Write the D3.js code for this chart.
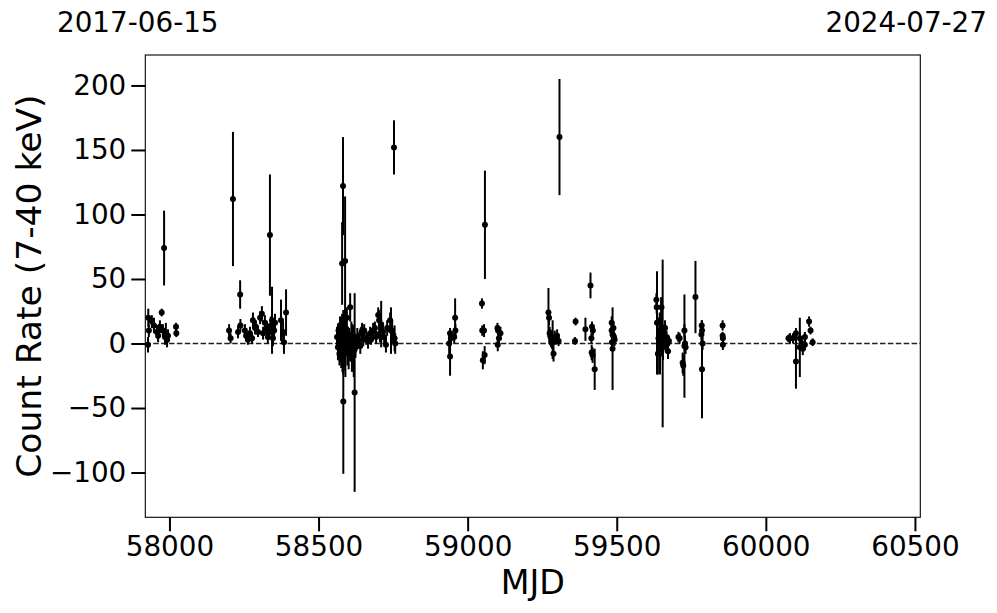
<!DOCTYPE html>
<html>
<head>
<meta charset="utf-8">
<script src="https://cdn.jsdelivr.net/npm/d3@7"></script>
<style>
  html, body { margin: 0; padding: 0; background: #fff; }
  svg { display: block; font-family: "DejaVu Sans", sans-serif; }
</style>
</head>
<body>
<svg id="chart" width="997" height="613"></svg>
<script>
// ---- data ----
const mjd = [
  // 2017
  57928, 57929, 57931, 57941, 57948, 57958, 57962, 57968, 57974, 57978, 57982, 57985, 57988, 57992, 57995, 58022, 58023,
  // 2018
  58200, 58205, 58213, 58230, 58237, 58238, 58253, 58257, 58263, 58270, 58277, 58280, 58287, 58290, 58297, 58304, 58310,
  58314, 58320, 58327, 58330, 58334, 58337, 58340, 58344, 58347, 58351, 58354, 58374, 58381, 58384, 58391,
  // 2019 dense
  58562, 58565, 58567, 58569, 58570, 58572, 58573, 58575, 58576, 58578, 58579, 58579, 58580, 58582, 58582, 58583, 58585,
  58586, 58588, 58589, 58590, 58591, 58593, 58583, 58595, 58597, 58599, 58601, 58603, 58606, 58608, 58610, 58612, 58614, 58616,
  58618, 58621, 58620, 58624, 58627, 58630, 58634, 58640, 58643, 58646, 58650,
  58653, 58660, 58666, 58673, 58676, 58683, 58689, 58693, 58700, 58703, 58706, 58710, 58716, 58720, 58726, 58730, 58740,
  58743, 58747, 58750, 58753, 58755, 58757,
  // 2020
  58938, 58941, 58941, 58944, 58955, 58958, 58959,
  59048, 59049, 59051, 59055, 59057, 59058, 59100, 59101, 59102, 59105, 59110,
  // 2021
  59271, 59273, 59275, 59278, 59280, 59283, 59285, 59288, 59292, 59296, 59300, 59305, 59308,
  59360, 59362, 59395, 59412, 59415, 59416, 59417, 59419, 59420, 59426,
  59483, 59483, 59484, 59486, 59486, 59489, 59491, 59493,
  // 2022
  59633, 59634, 59635, 59638, 59640, 59644, 59645, 59649, 59650, 59652, 59654, 59655, 59657, 59660, 59662, 59664, 59667,
  59670, 59672, 59675,
  59707, 59711, 59721, 59723, 59727, 59727, 59729, 59731,
  59764, 59784, 59785, 59786, 59786, 59788,
  59855, 59855, 59856, 59856,
  // 2023
  60076, 60081, 60091, 60101, 60101, 60114, 60114, 60121, 60124, 60131, 60131, 60145, 60150, 60157
];
const rate = [
  -1, 20, 10, 17, 14, 9, 6, 13, 24, 10, 74, 5, 8, 3, 6, 13, 8,
  10, 4, 112, 9, 38, 14, 10, 6, 3, 8, 4, 18, 12, 13, 9, 20, 23,
  8, 16, 11, 5, 9, 84, 14, 18, 4, 10, 16, 18, 9, 1, 24,
  5, -3, 10, 2, -8, 14, 0, 6, -5, 12, 3, 62, -10, 8, 122, 1, -3,
  16, 4, 64, -6, 10, 0, -45, 20, -2, 6, -8, 2, 28, -4, 3, -12, 7, -1,
  -6, -38, 2, -3, 0, 5, 1, -2, 8, 10, 3,
  10, 4, 2, 8, 3, 10, 12, 5, 22, 18, 8, 15, 9, 5, -1, 12, 18,
  10, 10, 5, 152, 4, 0,
  0, -10, 8, 4, 5, 20, 10,
  31, 10, -13, 10, -9, 92, 12, -1, 10, 4, 8,
  24, 20, 8, 5, 2, 0, 3, -8, 5, 3, 6, 2, 160,
  2, 17, 11, 45, 4, -7, 13, -9, 10, -20,
  16, 10, 1, 7, -4, 12, 5, 3,
  34, 28, 16, -8, 4, 18, -7, 13, 28, 10, 0, -3, 8, 3, 12, -1, 5,
  0, -6, 2,
  5, 4, -15, -17, -2, 10, 0, -3,
  36, 7, 14, 10, -20, 0,
  14, 6, 4, -1,
  4, 4, 4, -14, 8, -3, 4, 0, -4, 5, -1, 17, 10, 1
];
const rateErr = [
  6, 7, 5, 5, 6, 5, 5, 5, 3, 5, 29, 6, 8, 6, 5, 3, 3,
  5, 4, 52, 5, 11, 5, 5, 4, 4, 5, 4, 6, 5, 5, 4, 5, 6,
  5, 6, 6, 5, 6, 47, 7, 26, 6, 6, 7, 16, 8, 9, 18,
  8, 10, 6, 12, 9, 7, 15, 10, 14, 8, 20, 32, 12, 9, 38, 25, 18,
  10, 11, 50, 20, 14, 9, 56, 8, 15, 7, 12, 10, 11, 9, 14, 10, 8, 12,
  20, 77, 7, 8, 6, 7, 5, 6, 5, 6, 5,
  5, 5, 6, 5, 4, 6, 5, 5, 6, 8, 7, 18, 6, 5, 6, 6, 6,
  18, 8, 5, 21, 10, 8,
  8, 15, 4, 5, 5, 15, 5,
  4, 4, 7, 5, 7, 42, 4, 5, 4, 5, 5,
  19, 6, 5, 6, 5, 4, 15, 6, 5, 4, 5, 4, 45,
  3, 3, 9, 10, 4, 6, 4, 6, 4, 16,
  5, 6, 4, 5, 32, 5, 4, 5,
  5, 5, 40, 16, 8, 6, 17, 23, 6, 8, 65, 10, 6, 5, 6, 6, 5,
  5, 6, 4,
  4, 4, 8, 8, 40, 5, 6, 5,
  28, 5, 4, 5, 38, 5,
  4, 3, 3, 4,
  3, 4, 4, 21, 4, 23, 5, 5, 5, 4, 4, 4, 3, 3
];
const xTicks = [58000, 58500, 59000, 59500, 60000, 60500];
const yTicks = [-100, -50, 0, 50, 100, 150, 200];
const xDomain = [57919, 60518];
const yDomain = [-134.7, 223.6];
const startLabel = "2017-06-15";
const endLabel = "2024-07-27";
const xLabel = "MJD";
const yLabel = "Count Rate (7-40 keV)";

// ---- layout ----
const L = 145.3, R = 920.3, T = 55, B = 517.3;
const svg = d3.select("#chart");
const x = d3.scaleLinear().domain(xDomain).range([L, R]);
const y = d3.scaleLinear().domain(yDomain).range([B, T]);

const n = Math.min(mjd.length, rate.length, rateErr.length);
const points = d3.range(n).map(i => ({ m: mjd[i], v: rate[i], e: rateErr[i] }));

const tickFont = "27.8px";

// x axis
const gx = svg.append("g").attr("transform", `translate(0,${B})`)
  .call(d3.axisBottom(x).tickValues(xTicks).tickFormat(d3.format("d")).tickSize(14).tickPadding(5));
gx.select(".domain").remove();
gx.selectAll(".tick line").attr("stroke", "#000").attr("stroke-width", 2);
gx.selectAll(".tick text").attr("font-size", tickFont).attr("fill", "#000")
  .attr("font-family", "DejaVu Sans");

// y axis
const gy = svg.append("g").attr("transform", `translate(${L},0)`)
  .call(d3.axisLeft(y).tickValues(yTicks).tickFormat(d3.format("d")).tickSize(14).tickPadding(5));
gy.select(".domain").remove();
gy.selectAll(".tick line").attr("stroke", "#000").attr("stroke-width", 2);
gy.selectAll(".tick text").attr("font-size", tickFont).attr("fill", "#000")
  .attr("font-family", "DejaVu Sans");

// zero line
svg.append("line")
  .attr("x1", L).attr("x2", R).attr("y1", y(0)).attr("y2", y(0))
  .attr("stroke", "#222").attr("stroke-width", 1.5).attr("stroke-dasharray", "5.5,2.4");

// error bars
svg.append("g").selectAll("line").data(points).join("line")
  .attr("x1", d => x(d.m)).attr("x2", d => x(d.m))
  .attr("y1", d => y(d.v - d.e)).attr("y2", d => y(d.v + d.e))
  .attr("stroke", "#000").attr("stroke-width", 2);

// markers
svg.append("g").selectAll("circle").data(points).join("circle")
  .attr("cx", d => x(d.m)).attr("cy", d => y(d.v)).attr("r", 3)
  .attr("fill", "#000");

// frame
svg.append("rect").attr("x", L).attr("y", T).attr("width", R - L).attr("height", B - T)
  .attr("fill", "none").attr("stroke", "#000").attr("stroke-width", 1.1);

// labels
svg.append("text").attr("x", (L + R) / 2).attr("y", 594).attr("text-anchor", "middle")
  .attr("font-size", "33.3px").attr("fill", "#000").text(xLabel);
svg.append("text").attr("transform", `translate(41,${(T + B) / 2}) rotate(-90)`)
  .attr("text-anchor", "middle").attr("font-size", "34.5px").attr("fill", "#000").text(yLabel);
svg.append("text").attr("x", 57).attr("y", 32).attr("font-size", tickFont).attr("fill", "#000").text(startLabel);
svg.append("text").attr("x", 987).attr("y", 32).attr("text-anchor", "end")
  .attr("font-size", tickFont).attr("fill", "#000").text(endLabel);
</script>
</body>
</html>
